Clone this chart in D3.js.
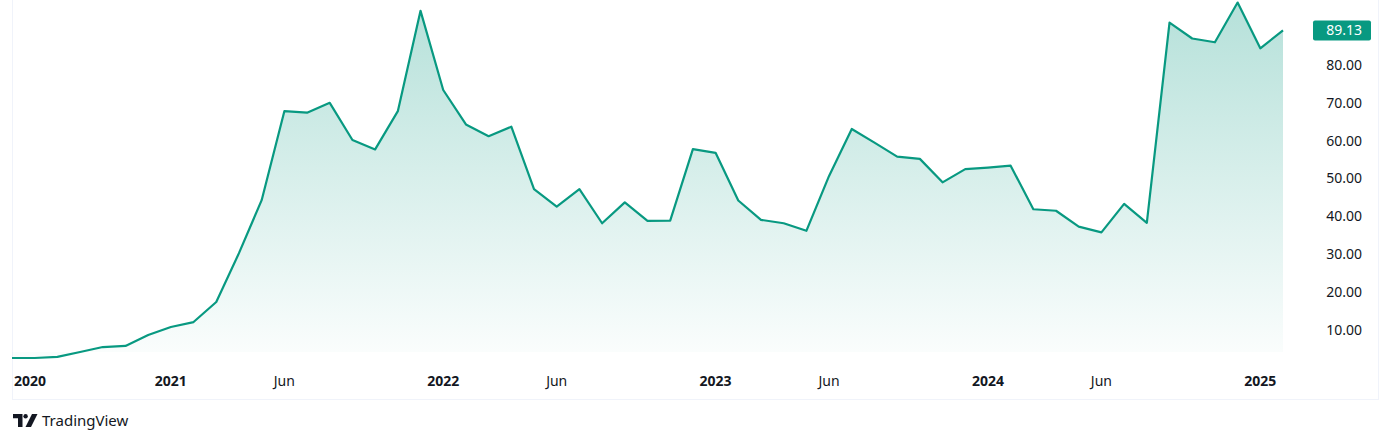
<!DOCTYPE html>
<html>
<head>
<meta charset="utf-8">
<script src="https://cdn.jsdelivr.net/npm/d3@7"></script>
<style>
  body { margin: 0; background: #ffffff; }
  svg { display: block; }
  .tick-label { font-family: "Noto Sans", Roboto, sans-serif; fill: #131722; }
</style>
</head>
<body>
<svg id="chart" width="1391" height="443"></svg>
<script>
// monthly closes, Jun 2020 .. Feb 2025
var months = [
  "2020-06","2020-07","2020-08","2020-09","2020-10","2020-11","2020-12",
  "2021-01","2021-02","2021-03","2021-04","2021-05","2021-06","2021-07","2021-08","2021-09","2021-10","2021-11","2021-12",
  "2022-01","2022-02","2022-03","2022-04","2022-05","2022-06","2022-07","2022-08","2022-09","2022-10","2022-11","2022-12",
  "2023-01","2023-02","2023-03","2023-04","2023-05","2023-06","2023-07","2023-08","2023-09","2023-10","2023-11","2023-12",
  "2024-01","2024-02","2024-03","2024-04","2024-05","2024-06","2024-07","2024-08","2024-09","2024-10","2024-11","2024-12",
  "2025-01","2025-02"
];
var closes = [
  2.6, 2.6, 2.9, 4.2, 5.5, 5.8, 8.7,
  10.8, 12.1, 17.4, 30.3, 44.3, 67.8, 67.4, 70.0, 60.2, 57.7, 67.8, 94.3,
  73.4, 64.3, 61.2, 63.7, 47.2, 42.6, 47.2, 38.2, 43.7, 38.8, 38.9, 57.8,
  56.8, 44.2, 39.1, 38.2, 36.2, 50.7, 63.1, 59.5, 55.8, 55.2, 49.0, 52.5,
  52.9, 53.4, 41.9, 41.5, 37.3, 35.8, 43.3, 38.3, 91.2, 87.0, 86.0, 96.5,
  84.4, 89.13
];
var priceTicks = [10, 20, 30, 40, 50, 60, 70, 80];
var timeTickMonths = ["2020-06","2021-01","2021-06","2022-01","2022-06","2023-01","2023-06","2024-01","2024-06","2025-01"];
var timeTickLabels = ["2020","2021","Jun","2022","Jun","2023","Jun","2024","Jun","2025"];

var teal = "#089981";
var svg = d3.select("#chart");
var plotLeft = 12, plotRight = 1283, plotBottom = 352, axisLine = 399, paneRight = 1378;

var x = d3.scalePoint()
  .domain(months)
  .range([plotLeft, plotRight]);

var y = d3.scaleLinear()
  .domain([10, 80])
  .range([330, 65]);

var data = months.map(function(m, i) { return {month: m, value: closes[i]}; });

// frame lines
svg.append("line")
  .attr("x1", plotLeft + 0.5).attr("x2", plotLeft + 0.5)
  .attr("y1", 0).attr("y2", axisLine)
  .attr("stroke", "#f0f3fa").attr("stroke-width", 1);
svg.append("line")
  .attr("x1", paneRight + 0.5).attr("x2", paneRight + 0.5)
  .attr("y1", 0).attr("y2", axisLine)
  .attr("stroke", "#f0f3fa").attr("stroke-width", 1);
svg.append("line")
  .attr("x1", plotLeft).attr("x2", paneRight + 1)
  .attr("y1", axisLine + 0.5).attr("y2", axisLine + 0.5)
  .attr("stroke", "#f0f3fa").attr("stroke-width", 1);

var defs = svg.append("defs");
var grad = defs.append("linearGradient")
  .attr("id", "areaFill")
  .attr("gradientUnits", "userSpaceOnUse")
  .attr("x1", 0).attr("x2", 0)
  .attr("y1", 0).attr("y2", plotBottom);
grad.append("stop").attr("offset", "0%").attr("stop-color", teal).attr("stop-opacity", 0.3);
grad.append("stop").attr("offset", "100%").attr("stop-color", teal).attr("stop-opacity", 0.02);

var area = d3.area()
  .x(function(d) { return x(d.month); })
  .y0(plotBottom)
  .y1(function(d) { return y(d.value); });

var line = d3.line()
  .x(function(d) { return x(d.month); })
  .y(function(d) { return y(d.value); });

svg.append("path")
  .datum(data)
  .attr("d", area)
  .attr("fill", "url(#areaFill)");

svg.append("path")
  .datum(data)
  .attr("d", line)
  .attr("fill", "none")
  .attr("stroke", teal)
  .attr("stroke-width", 2.2)
  .attr("stroke-linejoin", "round");

// price scale
var labelRight = 1362;
svg.append("g").selectAll("text")
  .data(priceTicks)
  .enter().append("text")
    .attr("class", "tick-label")
    .attr("x", labelRight)
    .attr("y", function(d) { return y(d); })
    .attr("dy", "0.35em")
    .attr("text-anchor", "end")
    .style("font-size", "14px")
    .text(function(d) { return d3.format(".2f")(d); });

var last = data[data.length - 1];
svg.append("rect")
  .attr("x", 1313).attr("width", 58)
  .attr("y", y(last.value) - 10).attr("height", 20)
  .attr("rx", 2)
  .attr("fill", teal);
svg.append("text")
  .attr("class", "tick-label")
  .attr("x", labelRight)
  .attr("y", y(last.value))
  .attr("dy", "0.35em")
  .attr("text-anchor", "end")
  .style("font-size", "14px")
  .style("fill", "#ffffff")
  .text(d3.format(".2f")(last.value));

// time scale
svg.append("g").selectAll("text")
  .data(timeTickMonths)
  .enter().append("text")
    .attr("class", "tick-label")
    .attr("x", function(d) { return x(d); })
    .attr("y", 381)
    .attr("dy", "0.35em")
    .attr("text-anchor", "middle")
    .style("font-size", "14px")
    .style("font-weight", function(d, i) { return timeTickLabels[i] === "Jun" ? "normal" : "bold"; })
    .text(function(d, i) { return timeTickLabels[i]; })
    .each(function() {
      // keep the first label inside the pane
      var b = this.getBBox();
      if (b.x < plotLeft + 2) d3.select(this).attr("x", +d3.select(this).attr("x") + (plotLeft + 2 - b.x));
    });

// logo
var logo = svg.append("g").attr("transform", "translate(13,414)");
logo.append("path")
  .attr("d", "M0,0 H9.5 V13 H5 V4.3 H0 Z")
  .attr("fill", "#131722");
logo.append("circle")
  .attr("cx", 12.6).attr("cy", 2.2).attr("r", 2.2)
  .attr("fill", "#131722");
logo.append("path")
  .attr("d", "M19,0 H24.5 L18,13 H12.5 Z")
  .attr("fill", "#131722");
svg.append("text")
  .attr("x", 42)
  .attr("y", 421)
  .attr("dy", "0.35em")
  .style("font-family", "'Noto Sans', Roboto, sans-serif")
  .style("font-size", "15px")
  .style("fill", "#131722")
  .text("TradingView");
</script>
</body>
</html>
